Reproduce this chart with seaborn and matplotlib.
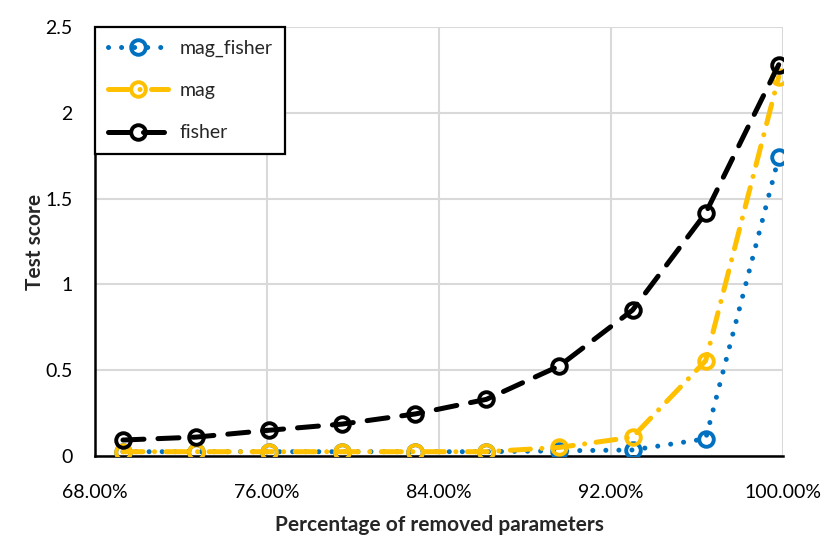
import matplotlib
matplotlib.use("Agg")
import matplotlib.pyplot as plt
import seaborn as sns
import pandas as pd
from matplotlib.ticker import FuncFormatter, MultipleLocator

x_pct = [69.3, 72.7, 76.1, 79.5, 82.9, 86.2, 89.6, 93.0, 96.4, 99.8]
mag_fisher = [0.025, 0.025, 0.025, 0.025, 0.025, 0.025, 0.03, 0.035, 0.10, 1.74]
mag = [0.025, 0.025, 0.025, 0.025, 0.025, 0.025, 0.05, 0.11, 0.555, 2.21]
fisher = [0.093, 0.11, 0.15, 0.186, 0.245, 0.33, 0.525, 0.85, 1.415, 2.28]
series_names = ["mag_fisher", "mag", "fisher"]
x_ticks = [68, 76, 84, 92, 100]

sns.set_theme(style="white")
plt.rcParams['font.family'] = ['Lato', 'DejaVu Sans']

fig = plt.figure(figsize=(8.3, 5.44), dpi=100)
ax = fig.add_axes([0.1145, 0.1618, 0.8289, 0.7886])

styles = {
    "mag_fisher": dict(color="#0070C0", dashes=(0.01, 2.6)),
    "mag": dict(color="#FFC000", dashes=(4.0, 2.3, 0.01, 2.3)),
    "fisher": dict(color="#000000", dashes=(4.2, 2.8)),
}
values = {"mag_fisher": mag_fisher, "mag": mag, "fisher": fisher}

for name in series_names:
    df = pd.DataFrame({"x": x_pct, "y": values[name]})
    st = styles[name]
    sns.lineplot(data=df, x="x", y="y", ax=ax, color=st["color"], lw=3.6,
                 marker="o", markersize=10.5, markerfacecolor="none",
                 markeredgecolor=st["color"], markeredgewidth=2.8,
                 label=name, zorder=3)
    line = ax.lines[-1]
    line.set_dashes(st["dashes"])
    line.set_dash_capstyle("round")

ax.set_xlim(68, 100)
ax.set_ylim(0, 2.5)
ax.set_xticks(x_ticks)
ax.xaxis.set_major_formatter(FuncFormatter(lambda v, p: f"{v:.2f}%"))
ax.yaxis.set_major_locator(MultipleLocator(0.5))
ax.yaxis.set_major_formatter(FuncFormatter(lambda v, p: f"{v:g}"))
ax.grid(True, color="#D9D9D9", lw=1.5, zorder=0)
ax.set_axisbelow(True)
for s in ["top", "right"]:
    ax.spines[s].set_visible(False)
for s in ["left", "bottom"]:
    ax.spines[s].set_color("black")
    ax.spines[s].set_linewidth(1.8)
ax.tick_params(axis="both", length=0, labelsize=14, colors="black")
ax.tick_params(axis="x", pad=20)
ax.tick_params(axis="y", pad=16)
ax.set_xlabel("Percentage of removed parameters", fontsize=15, fontweight="bold", labelpad=10)
ax.set_ylabel("Test score", fontsize=15, fontweight="bold", labelpad=0)

leg = ax.legend(loc="upper left", bbox_to_anchor=(0, 1), borderaxespad=0,
                fontsize=14, frameon=True, fancybox=False, edgecolor="black",
                labelspacing=1.3, handlelength=3.1, borderpad=0.65, handletextpad=0.6)
leg.get_frame().set_linewidth(1.6)
leg.get_frame().set_alpha(1)

fig.savefig("out.png", dpi=100)
